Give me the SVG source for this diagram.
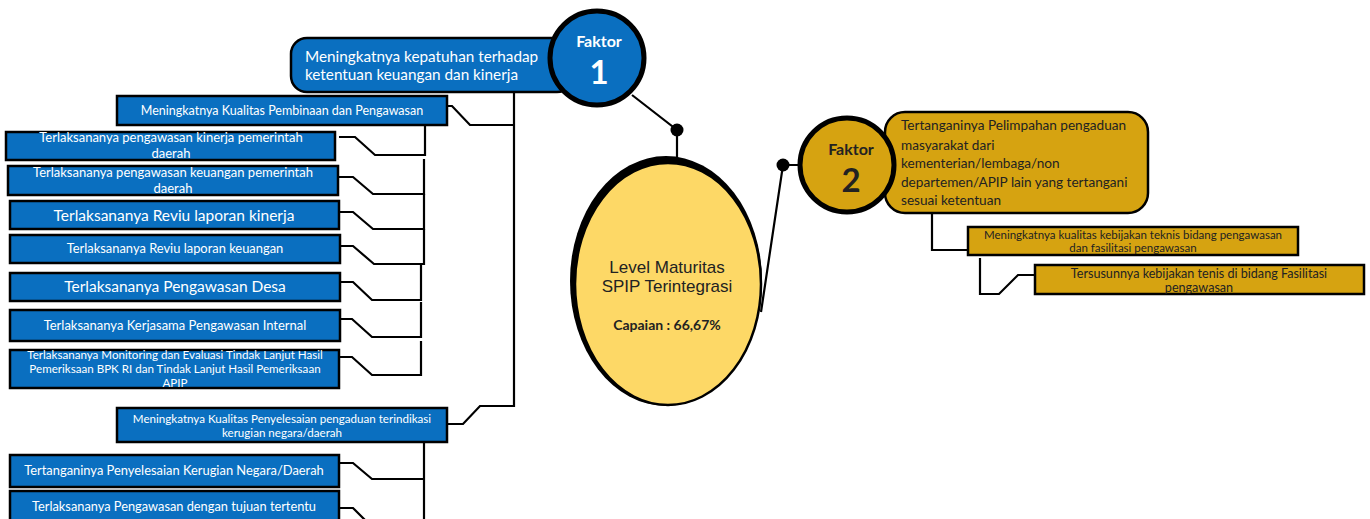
<svg xmlns="http://www.w3.org/2000/svg" width="1370" height="519" viewBox="0 0 1370 519">
<style>
.bb{fill:#0a6fc0;stroke:#000;stroke-width:2.5}
.gb{fill:#d6a311;stroke:#000;stroke-width:2.5}
.wt{fill:#fff;font-family:Lato,"Noto Sans",sans-serif;text-anchor:middle}
.dt{fill:#222;font-family:Lato,"Noto Sans",sans-serif;text-anchor:middle}
.st{text-anchor:start}
.cn{fill:none;stroke:#000;stroke-width:2.2;stroke-linejoin:miter}
</style>
<rect width="1370" height="519" fill="#fff"/>
<g id="connectors">
<path class="cn" d="M632,95 L677,130 V160"/>
<circle cx="677" cy="130" r="6.5" fill="#000"/>
<path class="cn" d="M761,312 L783,165 H810"/>
<circle cx="783" cy="165" r="6.5" fill="#000"/>
<path class="cn" d="M514,92 V406 H480 L463,424 H447"/>
<path class="cn" d="M514,125 H470 L452,106 H438"/>
<path class="cn" d="M425,122 V155 H375 L355,137 H339"/>
<path class="cn" d="M424,159 V194 H373 L353,177 H337"/>
<path class="cn" d="M424,194 V229 H373 L353,212 H339"/>
<path class="cn" d="M424,229 V264 H374 L353,246 H337"/>
<path class="cn" d="M421,265 V300 H372 L353,282 H335"/>
<path class="cn" d="M421,302 V337 H372 L352,319 H335"/>
<path class="cn" d="M421,341 V375 H372 L352,357 H336"/>
<path class="cn" d="M424,438 V525"/>
<path class="cn" d="M424,479 H372 L353,463 H336"/>
<path class="cn" d="M424,527 H372 L353,508 H336"/>
<path class="cn" d="M932,213 V250 H968"/>
<path class="cn" d="M980,258 V294 H999 L1018,275 H1035"/>
</g>
<g id="box-a">
<rect class="bb" x="291" y="38" width="282" height="54" rx="16"/>
<text class="wt st" font-size="15.3" x="305" y="62">Meningkatnya kepatuhan terhadap</text>
<text class="wt st" font-size="15.3" x="305" y="80">ketentuan keuangan dan kinerja</text>
</g>
<g id="faktor1">
<circle cx="597" cy="58" r="47" fill="#0a6fc0" stroke="#000" stroke-width="5"/>
<text class="wt" font-size="16" font-weight="bold" x="599" y="47">Faktor</text>
<text class="wt" font-size="33" font-weight="bold" x="599" y="84">1</text>
</g>
<g id="center">
<ellipse cx="666" cy="281" rx="96" ry="125" fill="#000"/>
<ellipse cx="668" cy="284" rx="93" ry="121" fill="#fdd866" stroke="#000" stroke-width="2.5"/>
<text font-family="'Liberation Sans',Arial,sans-serif" font-size="17" fill="#222" text-anchor="middle" x="667" y="273">Level Maturitas</text>
<text font-family="'Liberation Sans',Arial,sans-serif" font-size="17" fill="#222" text-anchor="middle" x="667" y="292">SPIP Terintegrasi</text>
<text class="dt" font-size="14" font-weight="bold" x="667" y="330" fill="#111">Capaian : 66,67%</text>
</g>
<g id="box-b">
<rect class="gb" x="885" y="112" width="263" height="101" rx="20"/>
<text class="dt st" font-size="13.6" x="901" y="130">Tertanganinya Pelimpahan pengaduan</text>
<text class="dt st" font-size="13.6" x="901" y="150">masyarakat dari</text>
<text class="dt st" font-size="13.6" x="901" y="168">kementerian/lembaga/non</text>
<text class="dt st" font-size="13.6" x="901" y="187">departemen/APIP lain yang tertangani</text>
<text class="dt st" font-size="13.6" x="901" y="205">sesuai ketentuan</text>
</g>
<g id="faktor2">
<circle cx="847" cy="165" r="47" fill="#d6a311" stroke="#000" stroke-width="5"/>
<text class="dt" font-size="16" font-weight="bold" x="851" y="155" fill="#1a1a1a">Faktor</text>
<text class="dt" font-size="33" font-weight="bold" x="851" y="192" fill="#1a1a1a">2</text>
</g>
<g id="box-c">
<rect class="gb" x="968" y="227" width="330" height="28"/>
<text class="dt" font-size="11.5" x="1133" y="239">Meningkatnya kualitas kebijakan teknis bidang pengawasan</text>
<text class="dt" font-size="11.5" x="1133" y="252">dan fasilitasi pengawasan</text>
</g>
<g id="box-d">
<rect class="gb" x="1035" y="265" width="329" height="29"/>
<text class="dt" font-size="12.6" x="1199" y="278">Tersusunnya kebijakan tenis di bidang Fasilitasi</text>
<text class="dt" font-size="12.6" x="1199" y="292">pengawasan</text>
</g>
<g id="box-pembinaan">
<rect class="bb" x="117" y="96" width="330" height="29"/>
<text class="wt" font-size="12.5" x="282" y="115">Meningkatnya Kualitas Pembinaan dan Pengawasan</text>
</g>
<g id="box-1">
<rect class="bb" x="6" y="132" width="329" height="28"/>
<text class="wt" font-size="13" x="171" y="142">Terlaksananya pengawasan kinerja pemerintah</text>
<text class="wt" font-size="13" x="171" y="158">daerah</text>
</g>
<g id="box-2">
<rect class="bb" x="8" y="166" width="330" height="29"/>
<text class="wt" font-size="13" x="173" y="177">Terlaksananya pengawasan keuangan pemerintah</text>
<text class="wt" font-size="13" x="173" y="193">daerah</text>
</g>
<g id="box-3">
<rect class="bb" x="10" y="201" width="329" height="28"/>
<text class="wt" font-size="15.5" x="174" y="221">Terlaksananya Reviu laporan kinerja</text>
</g>
<g id="box-4">
<rect class="bb" x="10" y="235" width="330" height="28"/>
<text class="wt" font-size="12.9" x="175" y="253">Terlaksananya Reviu laporan keuangan</text>
</g>
<g id="box-5">
<rect class="bb" x="10" y="273" width="330" height="28"/>
<text class="wt" font-size="15.5" x="175" y="292">Terlaksananya Pengawasan Desa</text>
</g>
<g id="box-6">
<rect class="bb" x="10" y="310" width="330" height="31"/>
<text class="wt" font-size="13" x="175" y="330">Terlaksananya Kerjasama Pengawasan Internal</text>
</g>
<g id="box-7">
<rect class="bb" x="10" y="350" width="329" height="38"/>
<text class="wt" font-size="11.6" x="175" y="359">Terlaksananya Monitoring dan Evaluasi Tindak Lanjut Hasil</text>
<text class="wt" font-size="11.6" x="175" y="373">Pemeriksaan BPK RI dan Tindak Lanjut Hasil Pemeriksaan</text>
<text class="wt" font-size="11.6" x="175" y="387">APIP</text>
</g>
<g id="box-e">
<rect class="bb" x="117" y="408" width="330" height="34"/>
<text class="wt" font-size="11.6" x="282" y="423">Meningkatnya Kualitas Penyelesaian pengaduan terindikasi</text>
<text class="wt" font-size="11.6" x="282" y="437">kerugian negara/daerah</text>
</g>
<g id="box-8">
<rect class="bb" x="10" y="455" width="329" height="32"/>
<text class="wt" font-size="12.9" x="174" y="475">Tertanganinya Penyelesaian Kerugian Negara/Daerah</text>
</g>
<g id="box-9">
<rect class="bb" x="10" y="491" width="329" height="40"/>
<text class="wt" font-size="12.8" x="174" y="511">Terlaksananya Pengawasan dengan tujuan tertentu</text>
</g>
</svg>
